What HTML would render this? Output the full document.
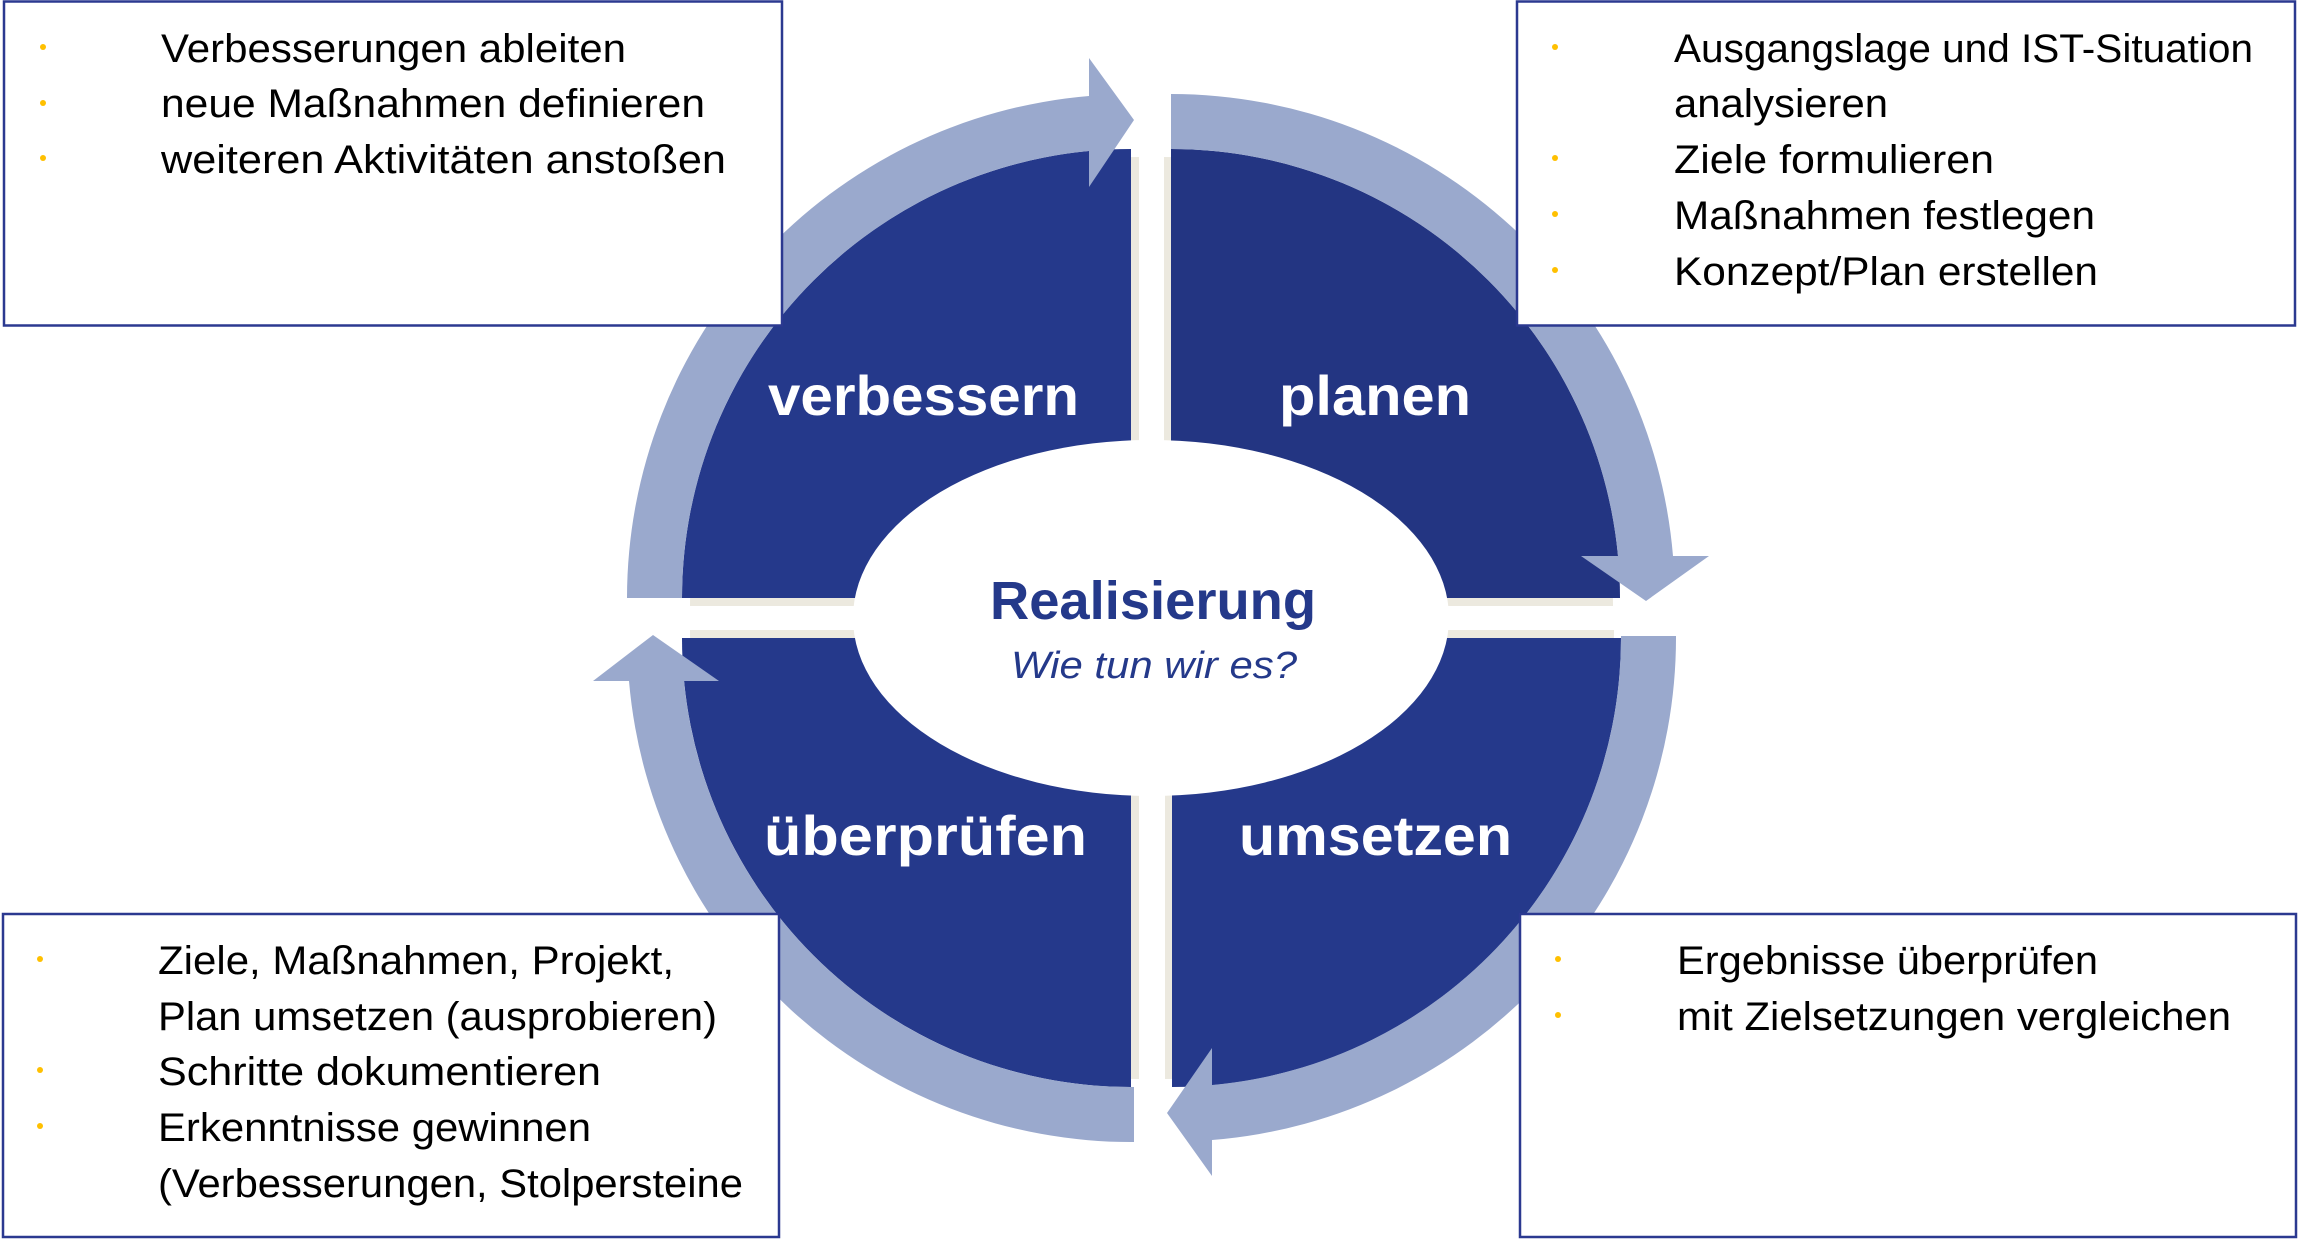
<!DOCTYPE html>
<html><head><meta charset="utf-8"><style>
html,body{margin:0;padding:0;background:#fff;}
svg{display:block;}
.q{font-family:"Liberation Sans",sans-serif;font-weight:bold;font-size:56px;fill:#fff;}
</style></head><body>
<svg width="2300" height="1240" viewBox="0 0 2300 1240" xmlns="http://www.w3.org/2000/svg">
<rect width="2300" height="1240" fill="#fff"/>
<g fill="#ece9df">
<path transform="translate(8,8)" d="M1131 598 L682 598 A449 449 0 0 1 1131 149 Z"/>
<path transform="translate(-7,8)" d="M1171 598 L1171 149 A449 449 0 0 1 1620 598 Z"/>
<path transform="translate(8,-8)" d="M1131 638 L1131 1087 A449 449 0 0 1 682 638 Z"/>
<path transform="translate(-7,-8)" d="M1172 638 L1621 638 A449 449 0 0 1 1172 1087 Z"/>
</g>
<path fill="#25398b" d="M1131 598 L682 598 A449 449 0 0 1 1131 149 Z"/>
<path fill="#233582" d="M1171 598 L1171 149 A449 449 0 0 1 1620 598 Z"/>
<path fill="#25398b" d="M1131 638 L1131 1087 A449 449 0 0 1 682 638 Z"/>
<path fill="#25398b" d="M1172 638 L1621 638 A449 449 0 0 1 1172 1087 Z"/>
<g fill="#9aa9cd">
<path d="M627 598 A504 504 0 0 1 1089 96 L1089 58 L1134 120 L1089 187 L1089 151 A449 449 0 0 0 682 598 Z"/>
<path d="M1171 94 A504 504 0 0 1 1673 556 L1709 556 L1646 601 L1581 556 L1618 556 A449 449 0 0 0 1171 149 Z"/>
<path d="M1676 636 A504 504 0 0 1 1212 1140 L1212 1176 L1167 1113 L1212 1048 L1212 1085 A449 449 0 0 0 1621 636 Z"/>
<path d="M1134 1142 A504 504 0 0 1 629 681 L593 681 L653 635 L719 681 L684 681 A449 449 0 0 0 1134 1087 Z"/>
</g>
<ellipse cx="1151" cy="618" rx="298" ry="178" fill="#fff"/>
<text x="990" y="619" textLength="326" lengthAdjust="spacingAndGlyphs" style="font-family:'Liberation Sans',sans-serif;font-weight:bold;font-size:54px;fill:#24398a">Realisierung</text>
<text x="1011" y="678" textLength="286" lengthAdjust="spacingAndGlyphs" style="font-family:'Liberation Sans',sans-serif;font-style:italic;font-size:38px;fill:#24398a">Wie tun wir es?</text>
<text class="q" x="768" y="415" textLength="311" lengthAdjust="spacingAndGlyphs">verbessern</text>
<text class="q" x="1279" y="415" textLength="192" lengthAdjust="spacingAndGlyphs">planen</text>
<text class="q" x="764" y="855" textLength="323" lengthAdjust="spacingAndGlyphs">überprüfen</text>
<text class="q" x="1239" y="855" textLength="273" lengthAdjust="spacingAndGlyphs">umsetzen</text>
<g fill="#fff" stroke="#2b3990" stroke-width="2.5">
<rect x="4" y="1.5" width="778" height="324"/>
<rect x="1517" y="1.5" width="778" height="324"/>
<rect x="3" y="914" width="776" height="323"/>
<rect x="1520" y="914" width="776" height="323"/>
</g>
<g fill="#ffc000">
<circle cx="43" cy="47" r="3"/><circle cx="43" cy="103" r="3"/><circle cx="43" cy="158" r="3"/>
<circle cx="1555" cy="47" r="3"/><circle cx="1555" cy="158" r="3"/><circle cx="1555" cy="214" r="3"/><circle cx="1555" cy="270" r="3"/>
<circle cx="40" cy="959" r="3"/><circle cx="40" cy="1070" r="3"/><circle cx="40" cy="1126" r="3"/>
<circle cx="1558" cy="959" r="3"/><circle cx="1558" cy="1015" r="3"/>
</g>
<g style="font-family:'Liberation Sans',sans-serif;font-size:40px;fill:#000">
<text x="161" y="62" textLength="465" lengthAdjust="spacingAndGlyphs">Verbesserungen ableiten</text>
<text x="161" y="117" textLength="544" lengthAdjust="spacingAndGlyphs">neue Maßnahmen definieren</text>
<text x="161" y="173" textLength="565" lengthAdjust="spacingAndGlyphs">weiteren Aktivitäten anstoßen</text>
<text x="1674" y="62" textLength="579" lengthAdjust="spacingAndGlyphs">Ausgangslage und IST-Situation</text>
<text x="1674" y="117" textLength="214" lengthAdjust="spacingAndGlyphs">analysieren</text>
<text x="1674" y="173" textLength="320" lengthAdjust="spacingAndGlyphs">Ziele formulieren</text>
<text x="1674" y="229" textLength="421" lengthAdjust="spacingAndGlyphs">Maßnahmen festlegen</text>
<text x="1674" y="285" textLength="424" lengthAdjust="spacingAndGlyphs">Konzept/Plan erstellen</text>
<text x="158" y="974" textLength="516" lengthAdjust="spacingAndGlyphs">Ziele, Maßnahmen, Projekt,</text>
<text x="158" y="1030" textLength="559" lengthAdjust="spacingAndGlyphs">Plan umsetzen (ausprobieren)</text>
<text x="158" y="1085" textLength="443" lengthAdjust="spacingAndGlyphs">Schritte dokumentieren</text>
<text x="158" y="1141" textLength="433" lengthAdjust="spacingAndGlyphs">Erkenntnisse gewinnen</text>
<text x="158" y="1197" textLength="585" lengthAdjust="spacingAndGlyphs">(Verbesserungen, Stolpersteine</text>
<text x="1677" y="974" textLength="421" lengthAdjust="spacingAndGlyphs">Ergebnisse überprüfen</text>
<text x="1677" y="1030" textLength="554" lengthAdjust="spacingAndGlyphs">mit Zielsetzungen vergleichen</text>
</g>
</svg>
</body></html>
